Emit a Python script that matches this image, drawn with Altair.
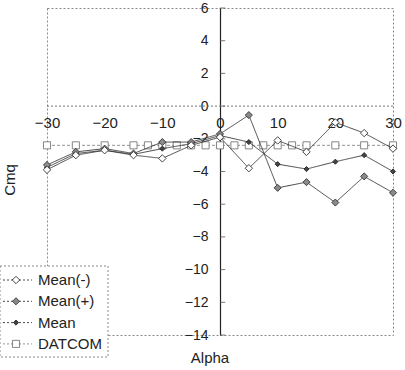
import altair as alt
import pandas as pd

# Angle of attack (deg) for the measured series
alpha = [-30, -25, -20, -15, -10, -5, 0, 5, 10, 15, 20, 25, 30]
mean_minus = [-3.9, -3.0, -2.7, -3.0, -3.2, -2.4, -1.9, -3.8, -2.1, -2.8, -1.0, -1.65, -2.6]
mean_plus = [-3.6, -2.8, -2.6, -2.9, -2.2, -2.2, -1.7, -0.55, -5.0, -4.65, -5.9, -4.3, -5.3]
mean = [-3.75, -2.9, -2.7, -2.95, -2.6, -2.3, -1.8, -2.2, -3.55, -3.85, -3.4, -3.0, -4.0]

# DATCOM prediction
alpha_datcom = [-30, -25, -20, -15, -12.5, -10, -7.5, -5, -2.5, 0, 2.5, 5, 7.5, 10, 12.5, 15, 20, 25, 30]
cmq_datcom = [-2.4] * len(alpha_datcom)

x_ticks = [-30, -20, -10, 0, 10, 20, 30]
y_ticks = [-14, -12, -10, -8, -6, -4, -2, 0, 2, 4, 6]

series_names = ["Mean(-)", "Mean(+)", "Mean", "DATCOM"]

W, H = 346, 327
FONT = "Liberation Sans"

frames = []
for name, xs, ys in [
    ("Mean(-)", alpha, mean_minus),
    ("Mean(+)", alpha, mean_plus),
    ("Mean", alpha, mean),
    ("DATCOM", alpha_datcom, cmq_datcom),
]:
    frames.append(pd.DataFrame({"alpha": xs, "cmq": ys, "series": name}))
df = pd.concat(frames, ignore_index=True)

xscale = alt.Scale(domain=[-30, 30], nice=False, zero=False)
yscale = alt.Scale(domain=[-14, 6], nice=False, zero=False)

x_axis = alt.Axis(
    orient="bottom", offset=-(H * 14 / 20), values=x_ticks, title=None,
    domain=False, ticks=False, grid=False, labelFontSize=15, labelFont=FONT,
    labelColor="#222", labelPadding=9, labelFlush=False, labelOverlap=False,
)
y_axis = alt.Axis(
    orient="left", offset=-(W / 2), values=y_ticks, title=None,
    domain=True, domainColor="#222", domainWidth=1.2, ticks=False, grid=False,
    labelFontSize=14, labelFont=FONT, labelColor="#222", labelPadding=12,
    labelFlush=False, labelOverlap=False,
)

x_enc = alt.X("alpha:Q", scale=xscale, axis=x_axis)
y_enc = alt.Y("cmq:Q", scale=yscale, axis=y_axis)

base = alt.Chart(df)

# Dotted zero line across the plot
zero_line = alt.Chart(pd.DataFrame({"cmq": [0]})).mark_rule(
    color="#777", strokeDash=[2, 2], strokeWidth=1
).encode(y=y_enc)

# Short inner ticks on the vertical axis
tick_df = pd.DataFrame({"cmq": y_ticks, "alpha": 0, "alpha_end": 0.9})
axis_ticks = alt.Chart(tick_df).mark_rule(color="#555", strokeWidth=0.8).encode(
    y=y_enc, x=x_enc, x2="alpha_end:Q"
)

styles = {
    "Mean(-)": dict(shape="diamond", fill="white", stroke="#333", size=55, line="#333", dash=[1, 0]),
    "Mean(+)": dict(shape="diamond", fill="#8a8a8a", stroke="#333", size=50, line="#333", dash=[1, 0]),
    "Mean": dict(shape="diamond", fill="#444", stroke="#222", size=26, line="#333", dash=[1, 0]),
    "DATCOM": dict(shape="square", fill="white", stroke="#777", size=50, line="#888", dash=[3, 2]),
}

layers = []
for name in ["DATCOM", "Mean", "Mean(+)", "Mean(-)"]:
    s = styles[name]
    sub = base.transform_filter(alt.datum.series == name)
    layers.append(
        sub.mark_line(color=s["line"], strokeWidth=0.9, strokeDash=s["dash"]).encode(x=x_enc, y=y_enc)
    )
    layers.append(
        sub.mark_point(
            shape=s["shape"], filled=True, fill=s["fill"], stroke=s["stroke"],
            strokeWidth=0.9, size=s["size"], opacity=1,
        ).encode(x=x_enc, y=y_enc)
    )
layers = [layers[0], zero_line, axis_ticks] + layers[1:]

# Axis titles
title_y = alt.Chart(pd.DataFrame({"t": ["Cmq"]})).mark_text(
    angle=270, fontSize=15, font=FONT, color="#222"
).encode(text="t:N", x=alt.value(-37), y=alt.value(172))
title_x = alt.Chart(pd.DataFrame({"t": ["Alpha"]})).mark_text(
    fontSize=15, font=FONT, color="#222"
).encode(text="t:N", x=alt.value(163), y=alt.value(350))
layers += [title_y, title_x]

# Legend box in the lower-left corner
legend_box = alt.Chart(pd.DataFrame({"a": [0]})).mark_rect(
    fill="white", stroke="#888", strokeWidth=1, strokeDash=[2, 2]
).encode(x=alt.value(-47), x2=alt.value(61), y=alt.value(258), y2=alt.value(349))
layers.append(legend_box)

for i, name in enumerate(series_names):
    s = styles[name]
    yy = 272 + i * 21.3
    row = alt.Chart(pd.DataFrame({"t": [name]}))
    layers.append(
        row.mark_rule(color=s["line"], strokeWidth=0.9, strokeDash=[2, 2]).encode(
            x=alt.value(-44), x2=alt.value(-15), y=alt.value(yy)
        )
    )
    layers.append(
        row.mark_point(
            shape=s["shape"], filled=True, fill=s["fill"], stroke=s["stroke"],
            strokeWidth=0.9, size=s["size"], opacity=1,
        ).encode(x=alt.value(-31), y=alt.value(yy))
    )
    layers.append(
        row.mark_text(align="left", fontSize=15, font=FONT, color="#222").encode(
            text="t:N", x=alt.value(-9), y=alt.value(yy)
        )
    )

chart = (
    alt.layer(*layers)
    .properties(
        width=W,
        height=H,
        padding={"left": 47, "top": 8, "right": 12, "bottom": 35},
        autosize=alt.AutoSizeParams(type="none"),
        background="white",
    )
    .configure_view(stroke="#888", strokeDash=[2, 2], strokeWidth=1)
)

chart.save("out.html", embed_options={"renderer": "svg", "actions": False})
